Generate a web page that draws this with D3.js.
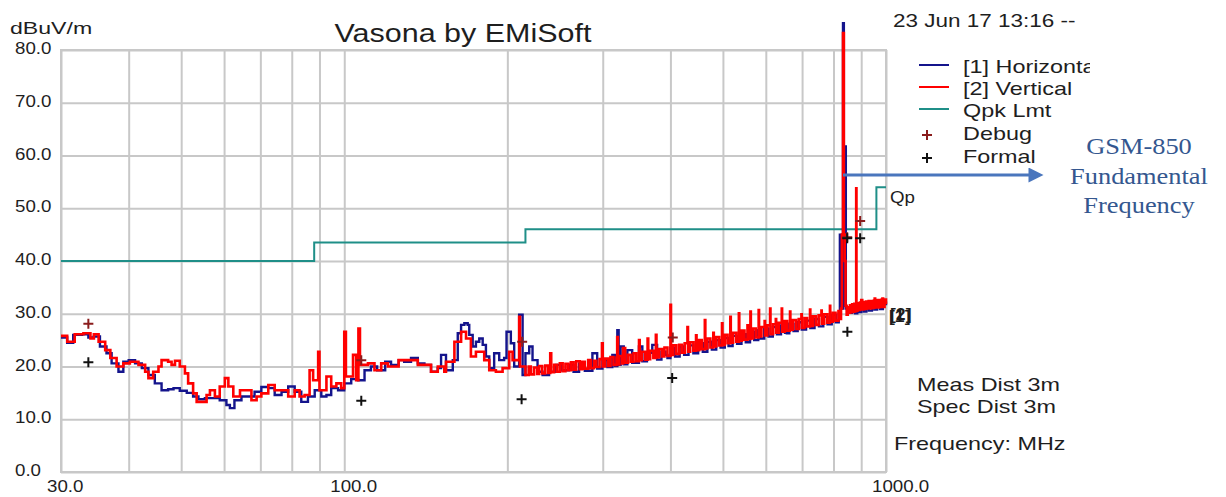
<!DOCTYPE html>
<html>
<head>
<meta charset="utf-8">
<script src="https://cdn.jsdelivr.net/npm/d3@7"></script>
<style>
  body { margin: 0; background: #fff; }
  text { font-family: "Liberation Sans", Arial, sans-serif; fill: #1e1e1e; }
  .grid line { stroke: #c8c8c8; stroke-width: 2; }
  .grid .domain { display: none; }
</style>
</head>
<body>
<div id="chart"></div>
<script>
// ---- data ----
var yTicks = [0, 10, 20, 30, 40, 50, 60, 70, 80];
var xLabelTicks = [30, 100, 1000];
var xGrid = [30, 40, 50, 60, 70, 80, 90, 100, 200, 300, 400, 500, 600, 700, 800, 900, 1000];

// [1] Horizontal
var freqH = [30.0,30.8,31.6,32.8,33.7,34.5,35.4,36.4,37.2,38.3,39.1,40.0,41.1,42.3,43.5,44.7,46.0,47.3,48.4,49.7,
  51.2,52.6,53.8,55.3,56.9,58.9,60.6,61.5,62.7,64.6,68.3,70.3,72.4,74.4,76.6,78.8,81.0,83.3,85.7,88.2,
  90.7,92.7,94.6,97.4,100,103,106,109,112,115,119,122,126,129,132.8,136.7,140.6,144.6,148.8,150.9,
  154.1,158.6,162.0,164.3,166.6,169.0,170.1,172.6,175.0,177.5,180.1,182.6,185.2,189.1,193.2,197.3,199.3,203.0,205.9,210.3,
  213.4,
  216,219.5,222.6,227.4,232.3,238.8,245.7,251.0,260.0,265,271.3,278,287.1,293,299.6,306,312.5,316,319.2,321,
  323.7,328,333.1,340,349.9,355,362,370.3,378,385,391.8,395,400,408,416,424,432,441,450,459,
  468,477,486,495,504,512,521,531,541,551,561,571,581,586,596,607,618,629,640,651,
  656,663,675,687,699,712,725,738,752,766,780,794,808,818,822,826,830,833,836,840,
  843,848,857,866,877,885,893,900,910,920,930,942,952,963,975,987,1000];
var levelH = [25.5,24.5,26.0,26.1,25.5,25.7,23.8,22.5,20.6,19.0,20.9,21.2,20.6,19.7,18.4,16.8,15.5,15.7,15.9,15.4,
  15.0,14.3,13.8,14.0,14.0,13.6,12.7,12.1,13.6,14.3,15.2,16.1,15.9,14.6,15.2,16.2,15.2,13.3,14.3,15.5,
  14.3,14.6,15.9,15.5,16.8,17.6,17.4,19.3,20.0,19.3,20.9,20.3,21.2,20.9,21.6,20.6,20.3,19.0,19.7,22.2,
  19.3,21.2,26.3,27.9,28.2,27.9,26.0,23.8,24.7,25.3,24.1,21.9,19.7,22.5,21.2,21.6,26.6,24.4,20.0,29.8,
  18.4,
  22.5,23.8,21.2,19.0,18.4,19.0,20.3,19.3,20.3,19.0,20.6,19.2,22.5,19.6,21.2,19.9,22.2,20.1,26.9,20.3,
  23.8,20.4,23.1,20.7,23.8,21.0,22.6,24.1,21.3,22.8,22.2,21.6,23.5,21.9,23.8,22.2,24.0,22.5,24.4,22.8,
  24.7,23.2,25.0,23.6,25.4,23.9,25.8,24.3,26.1,24.6,26.6,25.0,26.9,25.3,27.2,25.7,27.5,26.1,27.8,26.4,
  26.3,28.1,26.7,28.4,27.0,28.7,27.3,29.0,27.6,29.4,28.0,29.8,28.4,30.0,45.0,40.0,31.0,85.1,31.5,61.7,
  31.0,30.7,30.2,31.3,30.1,31.5,30.3,31.8,30.4,31.9,30.6,31.9,30.8,32.0,30.9,32.1,31.6];

// [2] Vertical
var freqV = [30.0,30.8,31.8,33.0,34.0,34.5,35.2,36.2,37.0,38.0,39.1,40.2,41.7,42.9,43.5,44.4,45.4,46.0,47.3,48.0,
  48.7,49.7,50.8,51.5,52.6,53.4,54.5,55.7,56.5,57.7,58.9,60.2,61.1,62.4,64.2,66.0,67.4,68.9,70.3,72.4,
  74.4,76.6,78.8,81.0,82.7,84.5,86.3,87.6,89.5,90.0,92.7,94.6,96.7,98.7,100,100.7,103.8,105.2,106.2,106.9,
  110.6,113.7,117,120.4,126,131,136.7,140.6,144.6,148.8,153.0,154.1,159.7,164.3,167.8,171.3,175.0,177.5,181.3,185.2,
  190.5,196.0,201.6,204.5,210.3,211.0,
  216,219,221,224,227,229,232,235,238,240,241,244,247,250,253,256,259,262,265,268,
  272,275,278,282,285,289,292,296,299,300,303,307,310,314,318,319,320,322,326,327,
  330,334,338,342,346,350,351,354,359,363,364,367,372,376,377,381,386,390,395,400,
  401,405,410,415,420,425,430,431,435,441,446,447,452,457,463,464,468,474,480,481,
  486,492,498,499,504,510,516,517,522,529,535,536,542,548,555,556,562,563,568,575,
  582,583,589,597,598,604,611,612,619,626,627,634,642,643,650,657,665,666,673,682,
  690,698,699,707,715,724,725,733,742,751,760,761,769,779,788,789,798,807,817,822,
  826,829,833,836,839,842,846,850,854,858,862,866,870,874,878,881,882,886,890,895,
  900,904,909,914,919,924,929,934,939,944,950,953,955,960,966,971,977,982,985,988,
  994,1000];
var levelV = [25.8,24.7,26.1,26.3,25.3,26.1,24.7,23.1,21.6,20.0,20.6,20.9,20.3,19.0,17.8,19.0,20.0,21.2,20.9,20.3,
  21.1,20.0,18.7,16.8,14.9,13.3,13.3,14.6,15.5,14.3,16.2,17.8,16.2,14.3,15.5,15.5,13.6,14.3,14.9,16.5,
  15.5,15.5,14.3,15.5,14.3,14.6,19.3,17.4,22.8,15.5,18.1,16.2,16.8,15.9,26.6,18.1,22.2,17.4,27.2,20.3,
  20.6,19.3,20.6,20.0,21.2,21.2,20.3,20.3,19.0,20.0,19.0,20.9,24.7,26.6,25.3,21.9,22.8,22.8,21.2,19.3,
  19.0,19.7,22.8,21.2,29.4,20.0,
  18.4,20.0,18.5,19.8,18.6,20.1,18.7,20.2,18.8,22.5,18.9,20.3,19.0,20.6,19.1,20.5,19.3,20.8,19.4,21.0,
  19.5,20.9,19.6,21.2,19.7,21.1,19.9,21.4,24.4,20.0,21.5,20.1,21.8,20.3,21.7,25.6,20.4,22.0,20.6,23.5,
  20.7,22.2,20.9,22.5,21.0,25.0,21.2,22.8,21.3,25.3,21.4,23.0,21.6,26.0,21.7,23.3,21.9,23.6,22.0,31.7,
  22.2,24.0,22.4,24.1,22.6,24.4,27.5,22.8,24.6,23.0,25.9,23.1,25.0,23.3,28.8,23.4,25.3,23.6,26.4,23.8,
  25.6,24.0,28.2,24.1,26.0,24.4,29.4,24.5,26.4,24.7,30.1,24.9,26.8,25.1,27.8,25.2,30.4,25.3,27.2,25.5,
  30.7,25.7,27.5,28.6,25.9,27.8,31.0,26.1,28.0,29.0,26.4,28.3,31.0,26.6,28.6,26.8,30.4,27.0,28.8,27.1,
  29.0,29.9,27.3,29.2,27.6,30.8,27.7,29.5,27.9,29.7,30.6,28.1,29.9,28.3,31.5,28.5,30.2,28.7,30.5,29.0,
  31.0,45.0,83.2,45.0,40.0,31.5,29.8,31.2,30.2,31.6,30.3,31.8,30.4,31.9,30.5,53.8,30.6,32.0,30.7,32.1,
  32.6,30.8,32.2,30.9,32.3,31.0,32.4,31.0,32.4,31.1,32.5,32.9,31.2,32.6,31.2,32.6,31.3,32.7,32.9,31.3,
  32.7,31.8];

// Qpk limit (steps)
var limitFreq = [30, 88, 216, 960, 1000];
var limitLevel = [40, 43.5, 46, 54, 54];

// discrete measurements
var debugFreq = [33.7, 107.5, 213, 404, 848, 896];
var debugLevel = [28.1, 21.2, 24.7, 25.5, 44.5, 47.6];
var formalFreq = [33.7, 107.5, 212.5, 403, 848.6, 848, 896];
var formalLevel = [20.8, 13.5, 13.8, 17.8, 26.6, 44.3, 44.3];

// ---- layout ----
var svgWidth = 1226;
var svgHeight = 497;
var margin = {top: 50, right: 340, bottom: 25, left: 61};
var width = svgWidth - margin.left - margin.right;
var height = svgHeight - margin.top - margin.bottom;

var svg = d3.select('#chart')
            .append('svg')
            .attr('width', svgWidth)
            .attr('height', svgHeight);

var chartGroup = svg.append('g')
                    .attr('transform', `translate(${margin.left}, ${margin.top})`);

var xScale = d3.scaleLog().domain([30, 1000]).range([0, width]);
var yScale = d3.scaleLinear().domain([0, 80]).range([height, 0]);

// stretched text helper (the source render is wide)
function label(g, x, y, str, size, sx, anchor) {
    return g.append('text')
            .attr('transform', `translate(${x}, ${y}) scale(${sx}, 1)`)
            .attr('font-size', size)
            .attr('text-anchor', anchor || 'start')
            .text(str);
}

// grid
chartGroup.append('g')
          .attr('class', 'grid')
          .attr('transform', `translate(0, ${height})`)
          .call(d3.axisBottom(xScale).tickValues(xGrid).tickSize(-height).tickFormat(''));
chartGroup.append('g')
          .attr('class', 'grid')
          .call(d3.axisLeft(yScale).tickValues(yTicks).tickSize(-width).tickFormat(''));
chartGroup.append('rect')
          .attr('width', width).attr('height', height)
          .attr('fill', 'none').attr('stroke', '#c8c8c8').attr('stroke-width', 2);

// tick labels
yTicks.forEach(function(v) {
    label(svg, 15, margin.top + yScale(v) + 4, v.toFixed(1), 16, 1.17);
});
xLabelTicks.forEach(function(v) {
    label(svg, margin.left + xScale(v) - 14, 492, v.toFixed(1), 16, 1.17);
});

// lines
function series(f, l) { return f.map(function(d, i) { return [d, l[i]]; }); }
var line = d3.line()
             .x(d => xScale(d[0]))
             .y(d => yScale(d[1]))
             .curve(d3.curveStepAfter);

chartGroup.append('path')
          .datum(series(limitFreq, limitLevel))
          .attr('d', line)
          .attr('fill', 'none').attr('stroke', '#1f8f88').attr('stroke-width', 2);

chartGroup.append('path')
          .datum(series(freqH, levelH))
          .attr('d', line)
          .attr('fill', 'none').attr('stroke', '#14148c').attr('stroke-width', 2.4);

chartGroup.append('path')
          .datum(series(freqV, levelV))
          .attr('d', line)
          .attr('fill', 'none').attr('stroke', '#ff0000').attr('stroke-width', 2.6);

// markers
function crosses(f, l, color) {
    var pts = series(f, l);
    var s = 5;
    chartGroup.selectAll(null)
              .data(pts).enter()
              .append('path')
              .attr('d', d => {
                  var x = xScale(d[0]), y = yScale(d[1]);
                  return `M${x - s},${y}H${x + s}M${x},${y - s}V${y + s}`;
              })
              .attr('stroke', color).attr('stroke-width', 2).attr('fill', 'none');
}
crosses(debugFreq, debugLevel, '#8a1c1c');
crosses(formalFreq, formalLevel, '#111');

// texts
label(svg, 10, 34, 'dBuV/m', 17, 1.36);
label(svg, 463, 42, 'Vasona by EMiSoft', 25, 1.22, 'middle');
label(svg, 893, 27, '23 Jun 17 13:16 --', 18, 1.25);
label(svg, 890, 203, 'Qp', 16, 1.17);
label(svg, 889, 322, '[1]', 16, 1.1).attr('font-weight', 'bold');
label(svg, 890, 320, '[2]', 16, 1.1).attr('font-weight', 'bold');
label(svg, 917, 391, 'Meas Dist 3m', 18, 1.3);
label(svg, 917, 413, 'Spec Dist 3m', 18, 1.3);
label(svg, 894, 450, 'Frequency: MHz', 18, 1.3);

// legend
var legendNames = ['[1] Horizontal', '[2] Vertical', 'Qpk Lmt'];
var legendColors = ['#14148c', '#ff0000', '#1f8f88'];
svg.append('clipPath').attr('id', 'legclip')
   .append('rect').attr('x', 900).attr('y', 0).attr('width', 190).attr('height', 200);
var legend = svg.append('g').attr('clip-path', 'url(#legclip)');
legendNames.forEach(function(n, i) {
    var y = 65 + i * 22;
    legend.append('line')
          .attr('x1', 919).attr('x2', 949).attr('y1', y).attr('y2', y)
          .attr('stroke', legendColors[i]).attr('stroke-width', 2);
    label(legend, 963, y + 8, n, 18, 1.3);
});
[['Debug', '#8a1c1c'], ['Formal', '#111']].forEach(function(m, i) {
    var y = 135 + i * 23;
    legend.append('path')
          .attr('d', `M922,${y}H932M927,${y - 5}V${y + 5}`)
          .attr('stroke', m[1]).attr('stroke-width', 2);
    label(legend, 963, y + 5, m[0], 18, 1.3);
});

// GSM-850 annotation
var peakX = margin.left + xScale(833);
svg.append('defs').append('marker')
   .attr('id', 'arrow').attr('viewBox', '0 0 10 10')
   .attr('refX', 1).attr('refY', 5)
   .attr('markerWidth', 6).attr('markerHeight', 5)
   .attr('orient', 'auto')
   .append('path').attr('d', 'M0,0L10,5L0,10Z').attr('fill', '#4a76bd');
svg.append('line')
   .attr('x1', peakX).attr('x2', 1030).attr('y1', 175).attr('y2', 175)
   .attr('stroke', '#4a76bd').attr('stroke-width', 3)
   .attr('marker-end', 'url(#arrow)');
['GSM-850', 'Fundamental', 'Frequency'].forEach(function(t, i) {
    label(svg, 1139, 154 + i * 29.5, t, 24, 1.1, 'middle')
        .style('font-family', '"Liberation Serif", "Times New Roman", serif')
        .style('fill', '#34578f');
});
</script>
</body>
</html>
